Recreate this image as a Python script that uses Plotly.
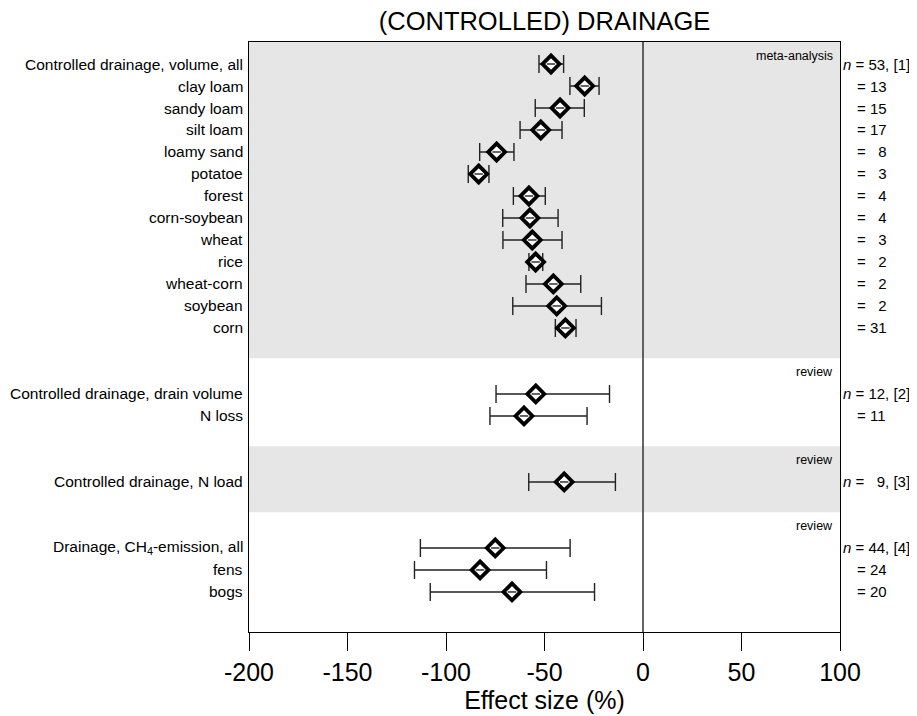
import plotly.graph_objects as go

# ---- data ----
labels = ["Controlled drainage, volume, all", "clay loam", "sandy loam", "silt loam",
          "loamy sand", "potatoe", "forest", "corn-soybean", "wheat", "rice",
          "wheat-corn", "soybean", "corn",
          "Controlled drainage, drain volume", "N loss",
          "Controlled drainage, N load",
          "Drainage, CH<sub>4</sub>-emission, all", "fens", "bogs"]
groups = [0]*13 + [1]*2 + [2] + [3]*3
effect = [-46.7, -29.6, -42.1, -51.9, -74.3, -83.4, -57.9, -57.4, -56.2, -54.5,
          -45.5, -43.8, -39.4, -54.4, -60.4, -40.0, -75.0, -82.7, -66.5]
lower = [-52.8, -37.1, -54.7, -62.4, -82.9, -88.7, -65.8, -71.2, -71.1, -57.9,
         -59.4, -66.1, -44.5, -74.6, -77.7, -58.0, -113.0, -116.0, -108.0]
upper = [-40.3, -22.3, -29.8, -41.1, -65.5, -78.2, -49.6, -43.1, -41.1, -50.9,
         -31.6, -21.1, -34.0, -17.0, -28.4, -14.0, -37.0, -49.0, -24.6]
n_obs = [53, 13, 15, 17, 8, 3, 4, 4, 3, 2, 2, 2, 31, 12, 11, 9, 44, 24, 20]
refs = ["[1]", "", "", "", "", "", "", "", "", "", "", "", "", "[2]", "", "[3]", "[4]", "", ""]
group_labels = ["meta-analysis", "review", "review", "review"]
x_ticks = [-200, -150, -100, -50, 0, 50, 100]
title_text = "(CONTROLLED) DRAINAGE"
x_title = "Effect size (%)"

# ---- layout helpers ----
pos = [i + 2*g for i, g in enumerate(groups)]
y_top, y_bot = -1.0, 25.82
starts = [pos[groups.index(g)] for g in range(len(group_labels))]
bounds = [y_top] + [s - 1.62 for s in starts[1:]] + [y_bot]

FONT = "Arial, Liberation Sans, sans-serif"
OFF = 8  # page body margin
W, H = 917 - OFF, 716 - OFF
ML, MT, MR, MB = 249 - OFF, 42 - OFF, 77, 84

fig = go.Figure()

# bands
for g in range(len(group_labels)):
    if g % 2 == 0:
        fig.add_shape(type="rect", xref="paper", yref="y", x0=0, x1=1,
                      y0=bounds[g], y1=bounds[g+1], fillcolor="#e6e6e6",
                      line=dict(width=0), layer="below")
    fig.add_annotation(xref="paper", yref="y", x=1, y=bounds[g], xanchor="right",
                       yanchor="top", xshift=-5, yshift=-5, showarrow=False,
                       text=group_labels[g], font=dict(family=FONT, size=12.5, color="black"))

# zero line
fig.add_shape(type="line", xref="x", yref="paper", x0=0, x1=0, y0=0, y1=1,
              line=dict(color="#333333", width=1.5))

err_plus = [u - e for u, e in zip(upper, effect)]
err_minus = [e - l for e, l in zip(effect, lower)]

fig.add_trace(go.Scatter(
    x=effect, y=pos, mode="markers",
    marker=dict(symbol="diamond", size=13, color="white",
                line=dict(color="black", width=3.8)),
    error_x=dict(type="data", symmetric=False, array=err_plus, arrayminus=err_minus,
                 color="#222222", thickness=1.4, width=9),
    showlegend=False, hoverinfo="skip"))
fig.add_trace(go.Scatter(
    x=effect, y=pos, mode="markers",
    marker=dict(symbol="line-ew-open", size=6, color="#333333",
                line=dict(color="#333333", width=1.5)),
    showlegend=False, hoverinfo="skip"))

# left labels
for lab, p in zip(labels, pos):
    fig.add_annotation(xref="paper", yref="y", x=0, y=p, xanchor="right", yanchor="middle",
                       xshift=-4, showarrow=False, text=lab,
                       font=dict(family=FONT, size=15.5, color="black"))

# right labels
for n, r, p in zip(n_obs, refs, pos):
    num = str(n) if n >= 10 else "\u00a0\u00a0" + str(n)
    if r:
        txt = "<i>n</i> = " + num + ", " + r
        xs = 1
    else:
        txt = "= " + num
        xs = 15
    fig.add_annotation(xref="paper", yref="y", x=1, y=p, xanchor="left", yanchor="middle",
                       xshift=xs, showarrow=False, text=txt,
                       font=dict(family=FONT, size=15, color="black"))

fig.update_layout(
    width=W, height=H,
    margin=dict(l=ML, r=MR, t=MT, b=MB),
    plot_bgcolor="white", paper_bgcolor="white",
    title=dict(text=title_text, x=(ML + (W - MR)) / 2 / W, xanchor="center",
               y=1 - (21 - OFF) / H, yanchor="middle", yref="container",
               font=dict(family=FONT, size=25.5, color="black")),
    xaxis=dict(range=[-200, 100], tickvals=x_ticks, ticktext=[str(v) for v in x_ticks],
               ticks="outside", ticklen=18, tickcolor="black", tickwidth=1,
               showgrid=False, zeroline=False, showline=True, linecolor="black",
               linewidth=1, mirror=True, automargin=False,
               tickfont=dict(family=FONT, size=25, color="black"),
               title=dict(text=x_title, standoff=6,
                          font=dict(family=FONT, size=25, color="black"))),
    yaxis=dict(range=[y_bot, y_top], showticklabels=False, ticks="", showgrid=False,
               zeroline=False, showline=True, linecolor="black", linewidth=1, mirror=True,
               automargin=False),
)

fig.write_html("out.html")
